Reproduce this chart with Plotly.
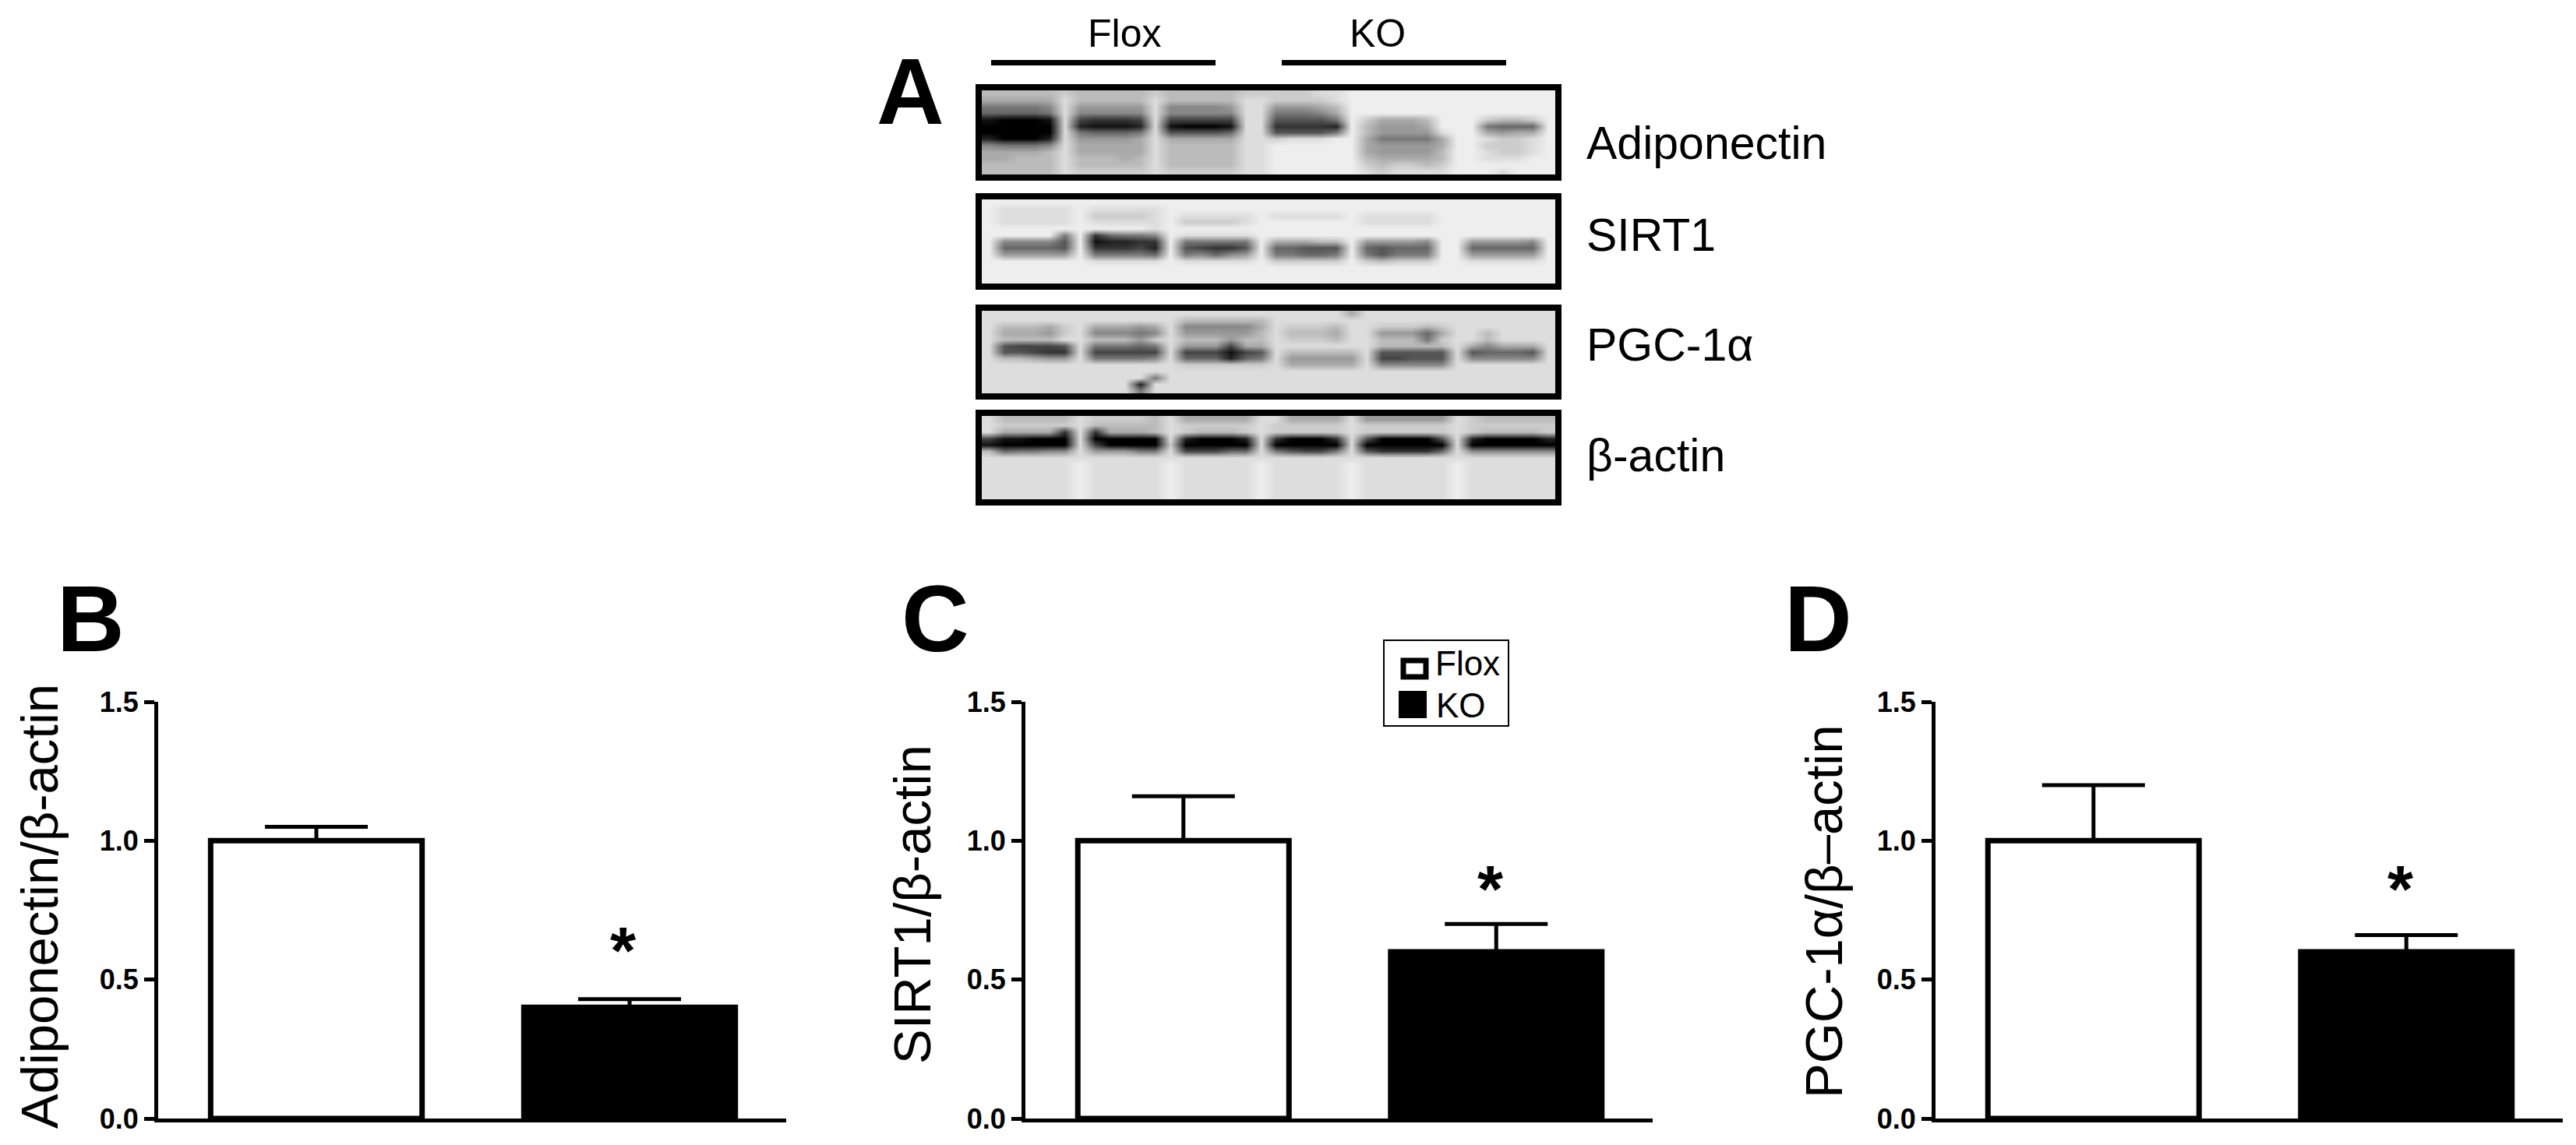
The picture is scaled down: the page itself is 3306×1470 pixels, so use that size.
import plotly.graph_objects as go

W, H = 3306, 1470
FONT = "Liberation Sans, Arial, sans-serif"

# ---------- data ----------
groups = ["Flox", "KO"]
panel_letters = ["A", "B", "C", "D"]
tick_vals = [0.0, 0.5, 1.0, 1.5]
tick_text = ["0.0", "0.5", "1.0", "1.5"]

adiponectin_mean = [1.00, 0.40]
adiponectin_sem = [0.05, 0.03]
sirt1_mean = [1.00, 0.60]
sirt1_sem = [0.16, 0.10]
pgc1a_mean = [1.00, 0.60]
pgc1a_sem = [0.20, 0.06]

star_b = 0.605
star_c = 0.825
star_d = 0.825

blot_labels = ["Adiponectin", "SIRT1", "PGC-1α", "β-actin"]
y_titles = ["Adiponectin/β-actin", "SIRT1/β-actin", "PGC-1α/β–actin"]

# densitometric grey levels of the blot images (hex digit per cell, 0=black, F=white)
blot_adiponectin = [
    "BBBBB C BBBBB C BBBBB CC CCCDD E EEEEEE EE EEEE E",
    "AAAAA D BBBBB D BBBBB DD CCCCD E EEEEEE EE EEEE E",
    "77778 D 99999 D 88889 DD 999AB E EEEEEE EE EEEE E",
    "66667 D 88888 D 88888 DD 7778A E EEEEEE EE EEEE E",
    "10001 D 43334 D 44444 DD 55557 E CAAABE EE CBBC E",
    "00000 D 21112 D 10001 DD 33332 E B999AE EE 7666 E",
    "00000 D 76667 D 55556 DD 55557 E B9999D EE A9AA E",
    "20002 D 9999A D AAAAA DD CDDDE E A7777A EE DCCD E",
    "87778 D AAAAA D BBBBB DD EEEEE E A9999A EE CCCD E",
    "AAAAB D AAAAA D BBBBB DD EEEEE E A9999B EE DCCD E",
    "AABBB D BBBAB D BBBBB DD EEEEE E BAAAAB EE DDDE E",
    "BBBBB D BBBBB D BBBBB DD EEEEE E CBCCBC EE EEEE E",
    "BBBBB D CCCCC D CCCCC DD EEEEE E DCDDDD EE EDEE E",
]
blot_sirt1 = [
    "E EEEEE E EEEEE E EEEEE E EEEEE E EEEEE EE EEEEE E",
    "E DDDDD E DDDDD E EEEEE E EEEEE E EEEEE EE EEEEE E",
    "E DDDDD E CCCCD E DDDDD E DDDDD E DDDDD EE EEEEE E",
    "E DDDDD E DDDDD E CCCCD E EEEEE E DDDDD EE EEEEE E",
    "E EEEEE E EEEED E EEEEE E EEEEE E EEEEE EE EEEEE E",
    "E EEEE7 E 36778 E DDDDD E EEEEE E EEEEE EE EEEEE E",
    "E 88885 E 12233 E 77777 E AAABB E 99998 EE 99998 E",
    "E 66665 E 33342 E 54335 E 66555 E 65666 EE 66666 E",
    "E 99999 E 77776 E 78689 E 77667 E 75777 EE 99999 E",
    "E EEEEE E DDDDD E DDDDD E CCCCC E CBCCC EE DDDDD E",
    "E EEEEE E EEEEE E EEEEE E EEEEE E EEEEE EE EEEEE E",
    "E EEEEE E EEEEE E EEEEE E EEEEE E EEEEE EE EEEEE E",
    "E EEEEE E EEEEE E EEEEE E EEEEE E EEEEE EE EEEEE E",
]
blot_pgc1a = [
    "D DDDDD D DDDDD D DDDDDD D DDDDA D DDDDD D DDDDD D",
    "D DDDDD D DDDDD D BBBBBB D DDDDD D DDDDD D DDDDD D",
    "D BBBAC D AAA9A D 88888A D CCCBD D CCCBC D DDDDD D",
    "D AAA9C D 88878 D 99999B D BBBAD D 999 6A D DBDDD D",
    "D BBBBD D BBB9C D BBB9BB D CCCBD D BBB7C D DBDDD D",
    "D 54445 D 77767 D 9994AA D DDDDD D BBBBB D A8AAA D",
    "D 55433 D 44444 D 444145 D BBBBB D 55555 D 56665 D",
    "D BBA99 D 77778 D 666267 D 99999 D 44555 D 88888 D",
    "D DDDDD D DDDDD D CCCCCC D AAAAA D 88888 D DDDDD D",
    "D DDDDD D DDDDD D DDDDDD D DDDDD D DDDDD D DDDDD D",
    "D DDDDD D DDDD7 D DDDDDD D DDDDD D DDDDD D DDDDD D",
    "D DDDDD D DDD2D D DDDDDD D DDDDD D DDDDD D DDDDD D",
    "D DDDDD D DDD7D D DDDDDD D DDDDD D DDDDD D DDDDD D",
]
blot_actin = [
    "D BBBBB D CCCCB D AAAAA D DAAAA D 999999 D CBBBBB",
    "D CCCCC D BBBBB D CCCCC D CCCCC D CCCCCC D CCCCCC",
    "D AAAA3 D 3AAAB D CBBBC D CCCCC D CCCCCC D CBBBBC",
    "4 11000 D 00000 D 20002 D 30003 D 500005 D 200002",
    "1 00000 D 40000 C 00000 D 00000 D 000000 D 000000",
    "B 67788 D 99977 D 44466 D 75447 D 533336 D 888888",
    "D DDDDD D DDDDD D DDDDD D DDDDD D DDDDDD D DDDDDD",
    "D DDDDD E DDDDD E DDDDD E DDDDD E DDDDDD E DDDDDD",
    "D DDDDD E DDDDD E DDDDD E DDDDD E DDDDDD E DDDDDD",
    "D DDDDD E DDDDD E DDDDD E DDDDD E DDDDDD E DDDDDD",
    "D DDDDD E DDDDD E DDDDD E DDDDD E DDDDDD E DDDDDD",
    "D DDDDD E DDDDD E DDDDD E DDDDD E DDDDDD E DDDDDD",
    "D DDDDD E DDDDD E DDDDD E DDDDD E DDDDDD E DDDDDD",
]


def px(x):
    return x / W


def py(y):
    return 1 - y / H


def grid(rows):
    return [[int(c, 16) for c in r.replace(" ", "")] for r in rows]


fig = go.Figure()
layout = {}

# ---------- panel A: blots ----------
blots = [blot_adiponectin, blot_sirt1, blot_pgc1a, blot_actin]
blot_y = [(116, 224), (256, 364), (399, 505), (534, 641)]
for i, (rows, (y0, y1)) in enumerate(zip(blots, blot_y)):
    n = i + 1
    suffix = "" if n == 1 else str(n)
    fig.add_trace(go.Heatmap(
        z=grid(rows), zmin=0, zmax=15, zsmooth="best", showscale=False,
        colorscale=[[0, "#000000"], [1, "#ffffff"]], hoverinfo="skip",
        xaxis="x" + suffix, yaxis="y" + suffix,
    ))
    layout["xaxis" + suffix] = dict(
        domain=[px(1260), px(1996)], anchor="y" + suffix, range=[-0.5, 37.5],
        showticklabels=False, ticks="", showgrid=False, zeroline=False,
        showline=True, mirror=True, linecolor="black", linewidth=8,
    )
    layout["yaxis" + suffix] = dict(
        domain=[py(y1), py(y0)], anchor="x" + suffix, range=[12.5, -0.5],
        showticklabels=False, ticks="", showgrid=False, zeroline=False,
        showline=True, mirror=True, linecolor="black", linewidth=8,
    )

# ---------- panels B, C, D: bars ----------
panels = [
    (adiponectin_mean, adiponectin_sem, (203, 1009), star_b),
    (sirt1_mean, sirt1_sem, (1316, 2121), star_c),
    (pgc1a_mean, pgc1a_sem, (2484, 3289), star_d),
]
annotations = []
for i, (mean, sem, (x0, x1), star) in enumerate(panels):
    n = i + 5
    xa, ya = f"x{n}", f"y{n}"
    fig.add_trace(go.Bar(
        x=[0, 1], y=mean, width=0.675, name="", showlegend=False,
        marker=dict(color=["white", "black"], line=dict(color="black", width=7)),
        error_y=dict(type="data", symmetric=False, array=sem, arrayminus=[0, 0],
                     color="black", thickness=5, width=66),
        xaxis=xa, yaxis=ya,
    ))
    layout[f"xaxis{n}"] = dict(
        domain=[px(x0), px(x1)], anchor=ya, range=[-0.505, 1.5],
        showticklabels=False, ticks="", showgrid=False, zeroline=False,
        showline=True, linecolor="black", linewidth=5,
    )
    layout[f"yaxis{n}"] = dict(
        domain=[py(1436), py(901)], anchor=xa, range=[0, 1.5],
        tickvals=tick_vals, ticktext=tick_text, ticks="outside", ticklen=13,
        tickwidth=5, tickcolor="black", showgrid=False, zeroline=False,
        showline=True, linecolor="black", linewidth=5,
        tickfont=dict(family=FONT, size=36, color="black", weight="bold"),
    )
    annotations.append(dict(
        x=0.98, y=star, xref=xa, yref=ya, text="<b>*</b>", showarrow=False,
        font=dict(family=FONT, size=85, color="black"),
    ))

# ---------- text ----------
def text(x, y, s, size, angle=0, xanchor="center", bold=False):
    annotations.append(dict(
        x=px(x), y=py(y), xref="paper", yref="paper", text=s, showarrow=False,
        xanchor=xanchor, yanchor="middle", textangle=angle,
        font=dict(family=FONT, size=size, color="black",
                  weight="bold" if bold else "normal"),
    ))


for s, x, y in zip(panel_letters, (1168, 117, 1200, 2333), (117, 794, 794, 794)):
    text(x, y, s, 120, bold=True)
for s, x, y in zip(groups, (1443, 1768), (43, 43)):
    text(x, y, s, 50)
for s, y in zip(blot_labels, (184, 302, 443, 585)):
    text(2034, y, s, 59, xanchor="left")
for s, x, y in zip(y_titles, (50, 1170, 2340), (1164, 1161, 1171)):
    text(x, y, s, 67, angle=-90)
text(1840, 851, groups[0], 44, xanchor="left")
text(1841, 905, groups[1], 44, xanchor="left")

# ---------- lines and the legend box ----------
def rect(x0, y0, x1, y1, fill, lw, line="black"):
    return dict(type="rect", xref="paper", yref="paper", x0=px(x0), x1=px(x1),
                y0=py(y1), y1=py(y0), fillcolor=fill,
                line=dict(color=line, width=lw))


shapes = [
    rect(1272, 77, 1560, 84, "black", 0),
    rect(1645, 77, 1933, 84, "black", 0),
    rect(1776, 822, 1936, 932, "white", 2),
    rect(1801, 848, 1830, 869, "white", 7),
    rect(1795, 887, 1831, 922, "black", 0),
]

fig.update_layout(
    width=W, height=H, margin=dict(l=0, r=0, t=0, b=0, autoexpand=False),
    paper_bgcolor="white", plot_bgcolor="white", showlegend=False,
    barmode="overlay", annotations=annotations, shapes=shapes,
    font=dict(family=FONT), **layout,
)
fig.write_html("out.html", config={"displayModeBar": False},
               post_script="document.body.style.margin='0';")
